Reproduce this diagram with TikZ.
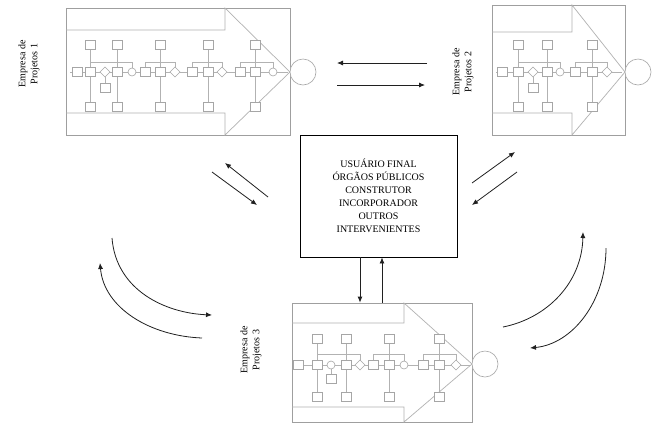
\documentclass[tikz,border=0pt]{standalone}
\usepackage{fontspec}
\setmainfont{Liberation Serif}
\usetikzlibrary{positioning,arrows.meta}

\newcommand{\caixinha}[2]{\draw[elem] (#1-5,#2-4.5) rectangle (#1+5,#2+4.5);}
\newcommand{\bolinha}[2]{\draw[elem] (#1,#2) circle[radius=4pt];}
\newcommand{\losango}[2]{\draw[elem] (#1-5,#2) -- (#1,#2-5) -- (#1+5,#2) -- (#1,#2+5) -- cycle;}

\begin{document}
\begin{tikzpicture}[x=1pt, y=-1pt, font=\fontsize{10}{13}\selectfont,
    quadro/.style={draw=gray!75, line width=0.8pt, inner sep=0pt},
    contorno/.style={draw=gray!60, line width=0.7pt},
    elem/.style={draw=gray!70, fill=white, line width=0.6pt},
    liga/.style={draw=gray!60, line width=0.5pt},
    seta/.style={draw=gray!25!black, line width=0.8pt, -{Latex[length=6pt,width=5pt]}},
    rotulo/.style={rotate=90, align=center, font=\fontsize{10}{12}\selectfont}]
        \useasboundingbox (0,0) rectangle (655,424);
        \fill[white] (0,0) rectangle (655,424);

        % empresas de projetos
        \node[quadro, minimum width=224pt, minimum height=127pt] (emp1) at (178,71.5) {};
        \node[quadro, minimum width=133pt, minimum height=130pt] (emp2) at (558.5,70) {};
        \node[quadro, minimum width=180pt, minimum height=119pt] (emp3) at (382,362.5) {};
        \draw[contorno] (66,30) -- (225,30) -- (225,8) -- (290,72) -- (225,135) -- (225,113) -- (66,113);
        \draw[contorno] (492,32) -- (572,32) -- (572,5) -- (625,72) -- (572,135) -- (572,113) -- (492,113);
        \draw[contorno] (292,323) -- (404,323) -- (404,303) -- (472,364) -- (404,422) -- (404,407) -- (292,407);
        \draw[elem] (303,72) circle[radius=13pt];
        \draw[elem] (638,72) circle[radius=13pt];
        \draw[elem] (485,364) circle[radius=13pt];

        \node[rotulo] (rot1) at (29,64) {Empresa de\\Projetos 1};
        \node[rotulo] (rot2) at (463,72) {Empresa de\\Projetos 2};
        \node[rotulo] (rot3) at (251,350) {Empresa de\\Projetos 3};

        % processo 1
        \draw[liga] (70,72) -- (288,72);
        \foreach \x in {90,117,160,208,255} {
            \draw[liga] (\x,49) -- (\x,68);
            \draw[liga] (\x,103) -- (\x,76);
        }
        \foreach \a/\b in {90/132, 145/175, 192/222, 240/273}
            \draw[liga] (\a,68) -- (\a,62) -- (\b,62) -- (\b,68);
        \draw[liga] (105,77) -- (105,84);
        \foreach \x in {77,90,117,145,160,192,208,240,255} \caixinha{\x}{72};
        \foreach \x in {90,117,160,208,255} {\caixinha{\x}{45} \caixinha{\x}{107}}
        \foreach \x in {132,273} \bolinha{\x}{72};
        \foreach \x in {105,175,222} \losango{\x}{72};
        \caixinha{105}{88}

        % processo 2
        \draw[liga] (496,72) -- (622,72);
        \foreach \x in {518,547,592} {
            \draw[liga] (\x,49) -- (\x,68);
            \draw[liga] (\x,103) -- (\x,76);
        }
        \foreach \a/\b in {518/560, 575/607}
            \draw[liga] (\a,68) -- (\a,62) -- (\b,62) -- (\b,68);
        \draw[liga] (533,77) -- (533,84);
        \foreach \x in {502,518,547,575,592} \caixinha{\x}{72};
        \foreach \x in {518,547,592} {\caixinha{\x}{45} \caixinha{\x}{107}}
        \bolinha{560}{72}
        \foreach \x in {533,607} \losango{\x}{72};
        \caixinha{533}{88}

        % processo 3
        \draw[liga] (294,365) -- (470,365);
        \foreach \x in {317,346,389,439} {
            \draw[liga] (\x,343) -- (\x,361);
            \draw[liga] (\x,393) -- (\x,369);
        }
        \foreach \a/\b in {317/360, 373/404, 423/456}
            \draw[liga] (\a,361) -- (\a,354) -- (\b,354) -- (\b,361);
        \draw[liga] (331,369) -- (331,375);
        \foreach \x in {298,317,346,373,389,423,439} \caixinha{\x}{365};
        \foreach \x in {317,346,389,439} {\caixinha{\x}{339} \caixinha{\x}{397}}
        \foreach \x in {331,404} \bolinha{\x}{365};
        \foreach \x in {360,456} \losango{\x}{365};
        \caixinha{331}{379}

        % intervenientes
        \node[draw, line width=0.9pt, minimum width=157pt, minimum height=122pt, align=center] (atores) at (378.5,196)
            {USUÁRIO FINAL\\ÓRGÃOS PÚBLICOS\\CONSTRUTOR\\INCORPORADOR\\OUTROS\\INTERVENIENTES};

        \draw[seta] ([xshift=-18.5pt]atores.south) -- ([xshift=-18.5pt]atores.south |- emp3.north);
        \draw[seta] ([xshift=3.5pt]atores.south |- emp3.north) -- ([xshift=3.5pt]atores.south);

        \coordinate (h1a) at (427,63);  \coordinate (h1b) at (337,63);
        \coordinate (h2a) at (337,85);  \coordinate (h2b) at (425,85);
        \coordinate (e1a) at (268,197); \coordinate (e1b) at (225,163);
        \coordinate (e2a) at (212,172); \coordinate (e2b) at (257,205);
        \coordinate (d1a) at (472,183); \coordinate (d1b) at (515,152);
        \coordinate (d2a) at (517,172); \coordinate (d2b) at (472,205);
        \coordinate (c1a) at (112,238); \coordinate (c1b) at (212,315);
        \coordinate (c2a) at (202,338); \coordinate (c2b) at (100,263);
        \coordinate (c3a) at (503,327); \coordinate (c3b) at (583,232);
        \coordinate (c4a) at (606,248); \coordinate (c4b) at (530,348);

        \draw[seta] (h1a) -- (h1b);
        \draw[seta] (h2a) -- (h2b);
        \draw[seta] (e1a) -- (e1b);
        \draw[seta] (e2a) -- (e2b);
        \draw[seta] (d1a) -- (d1b);
        \draw[seta] (d2a) -- (d2b);
        \draw[seta] (c1a) .. controls (116,290) and (165,313) .. (c1b);
        \draw[seta] (c2a) .. controls (150,336) and (104,308) .. (c2b);
        \draw[seta] (c3a) .. controls (548,318) and (582,282) .. (c3b);
        \draw[seta] (c4a) .. controls (606,302) and (572,344) .. (c4b);
    \end{tikzpicture}
\end{document}
